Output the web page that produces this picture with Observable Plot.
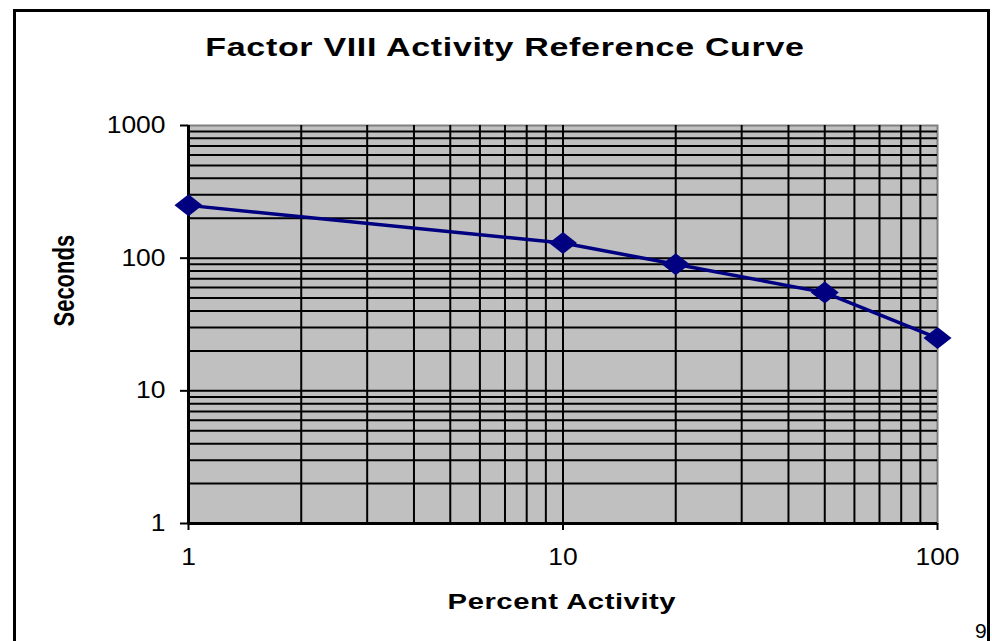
<!DOCTYPE html>
<html><head><meta charset="utf-8">
<script src="https://cdn.jsdelivr.net/npm/d3@7"></script>
<script src="https://cdn.jsdelivr.net/npm/@observablehq/plot@0.6"></script>
<style>
html,body{margin:0;padding:0;background:#fff;overflow:hidden;width:992px;height:641px}
#wrap{position:relative;width:992px;height:641px;overflow:hidden}
#border{position:absolute;left:13px;top:9px;width:977px;height:700px;border:3px solid #000;box-sizing:border-box}
#page{position:absolute;left:975px;top:620px;font:21px/22px "Liberation Sans",Arial,sans-serif;color:#000}
#chart{position:absolute;left:0;top:0}
</style></head><body>
<div id="wrap"><div id="border"></div><div id="chart"></div><div id="page">9</div></div>
<script>
const activity = [1, 10, 20, 50, 100];
const seconds = [250, 130, 90, 55, 25];
const xTicks = [1, 10, 100];
const yTicks = [1, 10, 100, 1000];
const title = "Factor VIII Activity Reference Curve";
const xLabel = "Percent Activity";
const yLabel = "Seconds";

const data = activity.map((a, i) => ({activity: a, seconds: seconds[i]}));
const minor = ticks => ticks.slice(0, -1).flatMap(t => [1,2,3,4,5,6,7,8,9].map(m => m * t));
const xGrid = minor(xTicks);
const yGrid = minor(yTicks);
const diamond = {draw(ctx) { const w = 14, h = 11; ctx.moveTo(0, -h); ctx.lineTo(w, 0); ctx.lineTo(0, h); ctx.lineTo(-w, 0); ctx.closePath(); }};

const chart = Plot.plot({
  width: 992, height: 641,
  marginLeft: 188, marginRight: 55, marginTop: 125, marginBottom: 118,
  style: {fontFamily: '"Liberation Sans", Arial, sans-serif', background: "transparent", color: "#000", overflow: "visible"},
  x: {type: "log", domain: [1, 100]},
  y: {type: "log", domain: [1, 1000]},
  marks: [
    Plot.frame({fill: "#c0c0c0", stroke: "#808080", strokeWidth: 2}),
    Plot.ruleX(xGrid, {stroke: "#000", strokeWidth: 2}),
    Plot.ruleY(yGrid, {stroke: "#000", strokeWidth: 2}),
    Plot.ruleX([xTicks[0]], {stroke: "#000", strokeWidth: 3}),
    Plot.ruleY([yTicks[0]], {stroke: "#000", strokeWidth: 3}),
    Plot.axisX({ticks: xTicks, tickFormat: d => String(d), tickSize: 7, tickPadding: 18, fontSize: 23, strokeWidth: 2, label: null}),
    Plot.axisY({ticks: yTicks, tickFormat: d => String(d), tickSize: 8, tickPadding: 15, fontSize: 23, strokeWidth: 2, label: null}),
    Plot.line(data, {x: "activity", y: "seconds", stroke: "#000080", strokeWidth: 3.5}),
    Plot.dot(data, {x: "activity", y: "seconds", symbol: diamond, fill: "#000080", stroke: "none"}),
    Plot.text([title], {frameAnchor: "top", lineAnchor: "bottom", dx: -58, dy: -70, fontSize: 25, fontWeight: "bold"}),
    Plot.text([xLabel], {frameAnchor: "bottom", lineAnchor: "bottom", dx: -1, dy: 85, fontSize: 22, fontWeight: "bold"}),
    Plot.text([yLabel], {frameAnchor: "left", lineAnchor: "middle", rotate: -90, dx: -124, dy: 2, fontSize: 22, fontWeight: "bold"})
  ]
});
document.getElementById("chart").appendChild(chart);
const svg = d3.select(chart);
function stretch(el, sx, sy, anchor) {
  const b = el.getBBox();
  const ax = anchor === "end" ? b.x + b.width : anchor === "start" ? b.x : b.x + b.width / 2;
  const ay = b.y + b.height / 2;
  const t = el.getAttribute("transform") || "";
  el.setAttribute("transform", `${t} translate(${ax},${ay}) scale(${sx},${sy}) translate(${-ax},${-ay})`);
}
svg.selectAll('g[aria-label="x-axis tick label"] text').each(function() { stretch(this, 1.15, 1, "middle"); });
svg.selectAll('g[aria-label="y-axis tick label"] text').each(function() { stretch(this, 1.15, 1, "end"); });
svg.selectAll("text").each(function() {
  const t = this.textContent;
  if (t === title) { stretch(this, 1.36, 1, "middle"); this.setAttribute("letter-spacing", "0.5px"); }
  if (t === xLabel) { stretch(this, 1.33, 1, "middle"); this.setAttribute("letter-spacing", "0.4px"); }
  if (t === yLabel) stretch(this, 1, 1.3, "middle");
});
</script>
</body></html>
